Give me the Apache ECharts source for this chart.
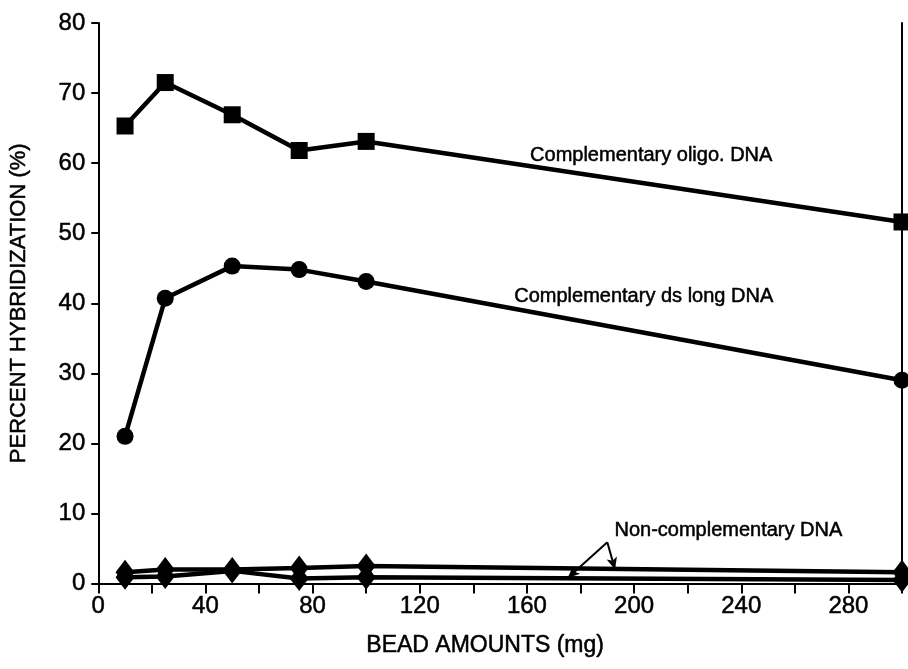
<!DOCTYPE html>
<html>
<head>
<meta charset="utf-8">
<script src="https://cdn.jsdelivr.net/npm/echarts@6/dist/echarts.min.js"></script>
<style>
html,body{margin:0;padding:0;background:#fff;}
#chart{width:908px;height:669px;}
</style>
</head>
<body>
<div id="chart"></div>
<script>
// Data
const beadAmounts = [10, 25, 50, 75, 100, 300];
const oligoDNA = [65.3, 71.5, 66.9, 61.8, 63.1, 51.6];
const dsLongDNA = [21.0, 40.7, 45.3, 44.8, 43.1, 29.0];
const nonCompUpper = [1.6, 2.0, 2.0, 2.2, 2.5, 1.6];
const nonCompLower = [0.9, 1.0, 1.8, 0.7, 0.9, 0.5];

const xTickLabels = [0, 40, 80, 120, 160, 200, 240, 280];
const yTickLabels = [0, 10, 20, 30, 40, 50, 60, 70, 80];

const labelOligo = {text: 'Complementary oligo. DNA', at: [206.4, 61.1]};
const labelDs = {text: 'Complementary ds long DNA', at: [203.6, 40.9]};
const labelNon = {text: 'Non-complementary DNA', at: [235.2, 7.6]};
const arrowApex = [190, 5.9];
const arrowEnds = [[192.9, 2.0], [175.2, 0.8]];

const pair = (ys) => beadAmounts.map((x, i) => [x, ys[i]]);
const FONT = '"Liberation Sans", Arial, Helvetica, sans-serif';
const HEAVY = {textBorderColor: '#000', textBorderWidth: 0.5};

function textMark(l) {
  return {
    coord: l.at,
    symbol: 'rect',
    symbolSize: 0,
    label: Object.assign({
      show: true, position: 'inside', formatter: l.text,
      color: '#000', fontFamily: FONT, fontSize: 20
    }, HEAVY)
  };
}

const lineBase = {
  type: 'line',
  lineStyle: {color: '#000', width: 4.5},
  itemStyle: {color: '#000'},
  z: 3,
  animation: false,
  silent: true
};

const chart = echarts.init(document.getElementById('chart'), null, {renderer: 'canvas'});
chart.setOption({
  backgroundColor: '#fff',
  animation: false,
  grid: {left: 95, right: 6, top: 23, bottom: 85.5, containLabel: false},
  xAxis: {
    type: 'value', min: 0, max: 300, interval: 20,
    name: 'BEAD AMOUNTS (mg)', nameLocation: 'middle', nameGap: 51,
    nameTextStyle: Object.assign({color: '#000', fontFamily: FONT, fontSize: 23, padding: [0, 30, 0, 0]}, HEAVY),
    axisLine: {show: true, onZero: false, lineStyle: {color: '#000', width: 2}},
    axisTick: {show: true, inside: false, length: 10, lineStyle: {color: '#000', width: 2}},
    axisLabel: Object.assign({
      color: '#000', fontFamily: FONT, fontSize: 24, margin: 11,
      formatter: (v) => xTickLabels.indexOf(v) >= 0 ? String(v) : ''
    }, HEAVY),
    splitLine: {show: false}
  },
  yAxis: [{
    type: 'value', min: 0, max: 80, interval: 10,
    name: 'PERCENT HYBRIDIZATION (%)', nameLocation: 'middle', nameGap: 68, nameRotate: 90,
    nameTextStyle: Object.assign({color: '#000', fontFamily: FONT, fontSize: 22}, HEAVY),
    axisLine: {show: true, lineStyle: {color: '#000', width: 2}},
    axisTick: {show: true, inside: false, length: 7, lineStyle: {color: '#000', width: 2}},
    axisLabel: Object.assign({
      color: '#000', fontFamily: FONT, fontSize: 24, margin: 13,
      formatter: (v) => yTickLabels.indexOf(v) >= 0 ? String(v) : ''
    }, HEAVY),
    splitLine: {show: false}
  }, {
    type: 'value', min: 0, max: 80, interval: 10, position: 'right',
    axisLine: {show: true, lineStyle: {color: '#000', width: 2}},
    axisTick: {show: false}, axisLabel: {show: false}, splitLine: {show: false}
  }],
  series: [
    Object.assign({}, lineBase, {
      name: 'Complementary oligo. DNA', data: pair(oligoDNA),
      symbol: 'rect', symbolSize: 17,
      markPoint: {data: [textMark(labelOligo)], animation: false}
    }),
    Object.assign({}, lineBase, {
      name: 'Complementary ds long DNA', data: pair(dsLongDNA),
      symbol: 'circle', symbolSize: 17,
      markPoint: {data: [textMark(labelDs)], animation: false}
    }),
    Object.assign({}, lineBase, {
      name: 'Non-complementary DNA (upper)', data: pair(nonCompUpper),
      symbol: 'diamond', symbolSize: [19, 25],
      markPoint: {data: [textMark(labelNon)], animation: false},
      markLine: {
        animation: false, silent: true,
        symbol: ['none', 'arrow'], symbolSize: [8, 12],
        lineStyle: {color: '#000', width: 2, type: 'solid'},
        label: {show: false},
        data: arrowEnds.map(e => [{coord: arrowApex}, {coord: e}])
      }
    }),
    Object.assign({}, lineBase, {
      name: 'Non-complementary DNA (lower)', data: pair(nonCompLower),
      symbol: 'diamond', symbolSize: [19, 25]
    })
  ]
});
</script>
</body>
</html>
